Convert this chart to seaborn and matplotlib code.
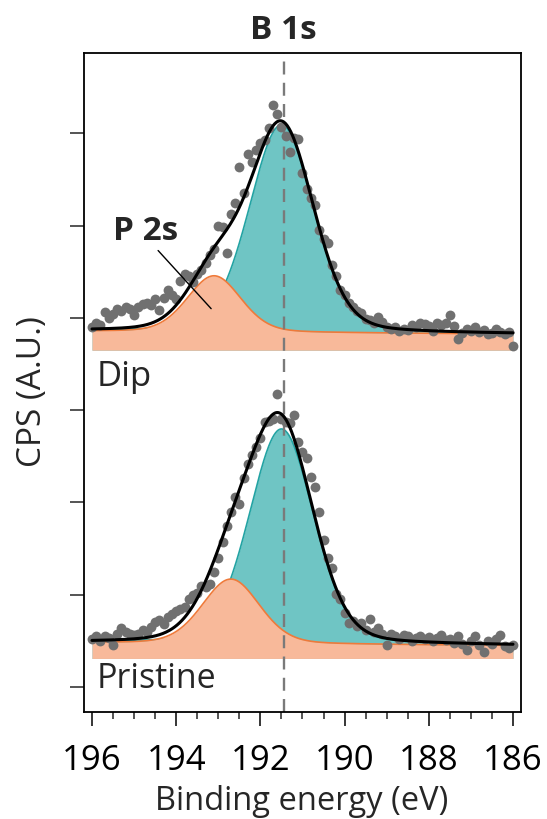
import numpy as np
import pandas as pd
import matplotlib
matplotlib.use("Agg")
import matplotlib.pyplot as plt
import seaborn as sns

# ---------------- data ----------------
energy = [round(196.0 - 0.1 * i, 1) for i in range(101)]

dip_counts = [
    3.90, 3.95, 3.92, 4.06, 4.00, 4.04, 4.10, 4.08, 4.12, 4.10,
    4.03, 4.12, 4.15, 4.16, 4.14, 4.21, 4.09, 4.22, 4.30, 4.25,
    4.21, 4.40, 4.48, 4.45, 4.39, 4.48, 4.52, 4.60, 4.68, 4.75,
    5.00, 4.98, 4.70, 5.13, 5.24, 5.64, 5.35, 5.78, 5.69, 5.82,
    5.90, 5.93, 6.06, 6.31, 6.21, 6.07, 5.97, 5.80, 5.95, 5.94,
    5.57, 5.40, 5.30, 5.22, 4.95, 4.85, 4.81, 4.57, 4.45, 4.30,
    4.25, 4.16, 4.12, 4.08, 4.05, 3.99, 3.98, 3.95, 4.01, 3.96,
    3.90, 3.88, 3.90, 3.86, 3.88, 3.87, 3.92, 3.90, 3.94, 3.93,
    3.91, 3.86, 3.94, 3.92, 3.94, 4.03, 3.91, 3.77, 3.84, 3.88,
    3.86, 3.90, 3.85, 3.87, 3.83, 3.84, 3.88, 3.85, 3.83, 3.85,
    3.70,
]

pristine_counts = [
    0.52, 0.55, 0.50, 0.55, 0.53, 0.46, 0.57, 0.64, 0.60, 0.58,
    0.56, 0.58, 0.62, 0.60, 0.65, 0.70, 0.73, 0.68, 0.76, 0.79,
    0.82, 0.85, 0.87, 0.95, 1.00, 1.02, 1.10, 1.08, 1.12, 1.25,
    1.40, 1.57, 1.74, 1.90, 2.06, 1.98, 2.26, 2.42, 2.51, 2.60,
    2.70, 2.87, 2.88, 2.90, 3.17, 2.90, 2.87, 2.86, 2.95, 2.66,
    2.55, 2.48, 2.28, 2.17, 1.90, 1.59, 1.40, 1.29, 1.01, 0.95,
    0.80, 0.69, 0.72, 0.66, 0.69, 0.62, 0.74, 0.60, 0.64, 0.58,
    0.46, 0.58, 0.55, 0.52, 0.56, 0.55, 0.50, 0.53, 0.55, 0.52,
    0.54, 0.50, 0.53, 0.56, 0.51, 0.52, 0.48, 0.55, 0.47, 0.40,
    0.50, 0.55, 0.46, 0.38, 0.50, 0.47, 0.52, 0.56, 0.45, 0.42,
    0.46,
]

# fitted components: [P 2s, B 1s]
dip_centers = [193.1, 191.5]
dip_heights = [0.61, 2.25]
dip_fwhm = [1.5, 1.8]
dip_background = [3.855, 3.825]      # at 196 eV, 186 eV
dip_floor = 3.65

pristine_centers = [192.7, 191.5]
pristine_heights = [0.70, 2.33]
pristine_fwhm = [1.6, 1.8]
pristine_background = [0.48, 0.45]
pristine_floor = 0.31

ref_line = 191.44
x_ticks = [196, 194, 192, 190, 188, 186]
y_ticks = [0, 1, 2, 3, 4, 5, 6]

# ---------------- style ----------------
sns.set_style("ticks")
plt.rcParams["font.family"] = ["Open Sans", "DejaVu Sans"]

TEAL_FILL = "#6fc5c4"
TEAL_EDGE = "#22a3a3"
ORANGE_FILL = "#f8b99a"
ORANGE_EDGE = "#ef7a3a"
DOT = "#707070"


def gl(e, c, h, w, m=0.2):
    r2 = ((e - c) / w) ** 2
    return h * ((1 - m) * np.exp(-4 * np.log(2) * r2) + m / (1 + 4 * r2))


fig = plt.figure(figsize=(5.47, 8.19), dpi=100)
ax = fig.add_axes([84 / 547, 1 - 712 / 819, 437 / 547, 659 / 819])

grid = np.linspace(196.0, 186.0, 501)

spectra = [
    (dip_counts, dip_centers, dip_heights, dip_fwhm, dip_background, dip_floor),
    (pristine_counts, pristine_centers, pristine_heights, pristine_fwhm,
     pristine_background, pristine_floor),
]

for counts, cen, hts, fw, bg, floor in spectra:
    base = np.interp(grid, [186.0, 196.0], [bg[1], bg[0]])
    p2s = base + gl(grid, cen[0], hts[0], fw[0])
    b1s = base + gl(grid, cen[1], hts[1], fw[1])
    total = base + gl(grid, cen[0], hts[0], fw[0]) + gl(grid, cen[1], hts[1], fw[1])

    ax.fill_between(grid, floor, b1s, color=TEAL_FILL, lw=0, zorder=1)
    ax.plot(grid, b1s, color=TEAL_EDGE, lw=1.2, zorder=1.1)
    ax.fill_between(grid, floor, p2s, color=ORANGE_FILL, lw=0, zorder=1.2)
    ax.plot(grid, p2s, color=ORANGE_EDGE, lw=1.2, zorder=1.3)

    df = pd.DataFrame({"E": energy, "cps": counts})
    sns.scatterplot(data=df, x="E", y="cps", ax=ax, color=DOT, s=50,
                    linewidth=0, zorder=3)
    fit = pd.DataFrame({"E": grid, "cps": total})
    sns.lineplot(data=fit, x="E", y="cps", ax=ax, color="black", lw=2.2,
                 sort=False, zorder=4)

ax.axvline(ref_line, color="#7a7a7a", lw=1.7, dashes=(5.5, 3.5), zorder=2)

ax.set_xlim(196.19, 185.81)
ax.set_ylim(-0.27, 6.87)
ax.set_xticks(x_ticks)
ax.set_xticklabels([str(t) for t in x_ticks])
ax.set_xticks(np.arange(186, 196.01, 0.5), minor=True)
ax.set_yticks(y_ticks)
ax.set_yticklabels([])
ax.set_xlabel("")
ax.set_ylabel("")

for s in ax.spines.values():
    s.set_linewidth(1.3)
    s.set_color("black")
ax.tick_params(axis="x", which="major", direction="out", length=10,
               width=1.1, labelsize=25, pad=13, colors="black")
ax.tick_params(axis="x", which="minor", direction="out", length=5,
               width=1.1)
ax.tick_params(axis="y", which="major", direction="out", length=10,
               width=1.1)
ax.tick_params(axis="y", which="minor", left=False)

ax.text(195.88, 3.26, "Dip", fontsize=25, ha="left", va="baseline")
ax.text(195.88, -0.01, "Pristine", fontsize=24.5, ha="left", va="baseline")
ax.text(195.49, 4.84, "P 2s", fontsize=24, fontweight="bold", ha="left",
        va="baseline")
ax.plot([194.43, 193.17], [4.73, 4.10], color="black", lw=1.0, zorder=5)

fig.text(283 / 547, 1 - 39 / 819, "B 1s", ha="center", va="baseline",
         fontsize=24, fontweight="bold")
fig.text(33 / 547, 1 - 392 / 819, "CPS (A.U.)", rotation=90, ha="center",
         va="center", fontsize=24)
fig.text(302 / 547, 1 - 810 / 819, "Binding energy (eV)", ha="center",
         va="baseline", fontsize=23.5)

fig.savefig("out.png", dpi=100)
